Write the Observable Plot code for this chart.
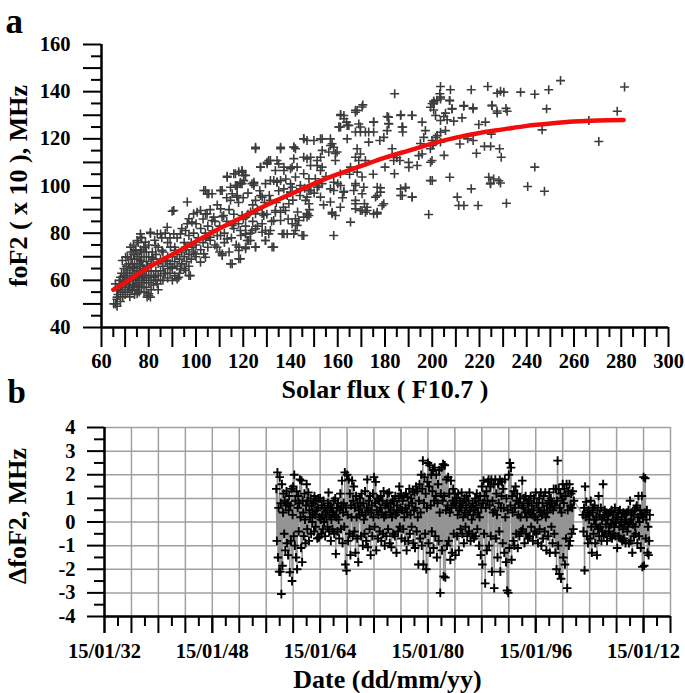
<!DOCTYPE html>
<html><head><meta charset="utf-8">
<script src="https://cdn.jsdelivr.net/npm/d3@7"></script>
<script src="https://cdn.jsdelivr.net/npm/@observablehq/plot@0.6"></script>
<style>
body{margin:0;background:#fff;}
#wrap{position:relative;width:685px;height:693px;overflow:hidden;background:#fff;}
#wrap svg{position:absolute;left:0;overflow:visible;}
</style></head><body><div id="wrap"></div>
<script>
// ---------- Panel a data ----------
const fluxTicks = [60, 80, 100, 120, 140, 160, 180, 200, 220, 240, 260, 280, 300];
const foF2Ticks = [40, 60, 80, 100, 120, 140, 160];
const fitFlux  = [65, 70, 80, 90, 100, 110, 120, 130, 140, 150, 160, 170, 180, 190, 200, 210, 220, 230, 240, 250, 260, 270, 281];
const fitFoF2  = [56, 59, 65.5, 71, 76.5, 82, 87, 92, 96.5, 101, 105, 108.5, 112, 115, 118, 120.5, 122.5, 124, 125.5, 126.5, 127.3, 127.8, 128];
const fluxFoF2 = [
[203.5,142.2],[207.7,140.8],[216.5,140.8],[223.5,142.2],[227.5,139.4],[228.9,140.2],[230.3,139.8],[237.4,139.8],[243.4,138.9],[249.3,140.8],[254.3,144.7],[281.4,142],[278.3,131.7],[266.3,127.8],[270.5,118.9],[248.4,132.7],[246.5,123.8],[243.4,108],[240.4,99.8],[247.5,97.8],[231.4,92.7],[219.4,91.7],[213.4,91.7],[211.2,91.7],[210.6,95.3],[216.5,98.8],[207.4,103.7],[223.9,103.7],[226,103],[224.6,100.9],[228.2,102.2],[218.7,113.9],[222.1,116.8],[224.7,116.8],[228.5,115.8],[229.2,112.2],[211.7,117.8],[217.3,119.3],[200.4,117.8],[201.4,120.6],[199.3,110.1],[200,102.3],[219.7,126.1],[222.5,127.1],[231.7,131.7],[227.5,130.9],[225.3,134.1],[217.3,132.7],[213.4,134.1],[208.4,132.7],[212.6,128.9],[209.1,127.5],[206.3,128.1],[203.5,127.8],[201.4,129.9],[203.2,139.1],[203.5,136.9],[207.4,136.2],[200.6,136],[200.6,134.9],[205.6,130.9],[204.9,129.5],[205.6,123.5],[203.5,122.8],[202.1,121.4],[200,117.2],
[184.1,139.1],[170.6,134.4],[168.2,132],[167.5,131.3],[161.2,130.3],[163.7,127.1],[164.7,125.7],[160.5,125],[168.9,126.3],[169.6,122.9],[171.7,122.9],[167.5,122.9],[173.1,122.9],[175.2,122.9],[175.2,127.1],[180.9,129.5],[181.6,126.3],[180.9,123.5],[179.5,120.6],[177.8,119.3],[173.1,118.6],[186.7,130.2],[191.4,130],[187.5,125],[187.5,122.9],[195.7,127.1],[199.9,135],[202,136.4],[200.6,132.2],[197.1,123.5],[196.4,120.6],[199.9,119.3],[203.5,118.6],[199.9,110.8],[199.2,102.3],[198.5,87.9],[183,115.8],[183.7,110.8],[184,105.2],[186.3,110.8],[190.1,107.9],[194.3,112.9],[195.7,113.6],[193.6,108.7],[199.2,115.8],[186.6,98.8],[188.7,99.5],[191.5,95.3],[187.3,96],[176.7,99.5],[178.1,97.4],[176,95.3],[179.5,92.5],[176.7,88.9],[175.2,88.2],
[168.2,115.8],[169.6,113.6],[167.5,112.2],[168.9,110.8],[171.7,110.8],[165.4,108],[168.2,105.9],[170.3,103.8],[167.5,101],[171,99.5],[166.8,98.1],[167.5,93.9],[171.3,92.5],[172.4,91],[169.6,89.6],[171.7,88.9],[167.5,90.3],[165.4,84.7],[158.3,79],[156.9,93.2],[157.6,88.9],[161.1,91],[159,87.5],[158.3,98.1],[162.5,97.4],[156.9,98.8],[161.1,105.2],[159,110.8],[156.2,114.4],[156.9,117.2],[153.4,115.1],[151.3,110.8],[152.7,106.6],[150.5,103.1],[153.4,101],[148.5,98.1],[147,95.3],[147.8,92.5],[147,88.3],[145.6,86.8],[143.5,85.4],[142.1,86.1],[140.7,84],[142.8,83.3],[142.1,81.1],[138.6,79.7],[136.5,79.7],[144.9,79],[147,86.8],[147.8,87.5],
[141.4,116.5],[142.1,115.8],[145.6,120],[147,119.3],[148.5,112.2],[147,111.5],[152.7,120],[156.9,120],[157.6,117.9],[159.7,114.4],[164,120],[151.3,108.7],[135.8,115.8],[125.2,115.8],[131.5,110.8],[130.1,110.1],[127.3,108],[133.6,106.6],[137.2,106.6],[140.7,108],[142.8,108],[142.1,103.8],[145.6,105.2],[147.8,103.1],[144.2,100.2],[140.7,99.5],[137.2,98.8],[134.3,101.7],[132.9,102.3],[131.5,102.3],[127.3,96],[128,95.3],[125.2,93.9],[140,97.4],[138.6,96],[139.3,92.5],[135.8,88.9],[131.5,93.9],[119.5,105.9],[121,104.5],[120.2,102.3],[124.5,101],
[121,86.8],[125.2,88.2],[128.7,87.5],[125.2,81.9],[129.4,81.1],[130.8,79.7],[132.9,85.4],[133.6,89.6],[121,79.7],[123.1,76.9],[121,74.1],[132.2,74.1],[125.2,74.1],[129.4,76.9],
[130.8,110.8],[135,109.4],[119.5,106.6],[116.7,105.2],[113.2,104.1],[117.4,100.2],[119.5,101],[123.7,101],[129.4,101],[104,98.1],[106.8,96.7],[111.1,98.1],[114.6,93.9],[117.4,96],[96.3,93.2],[90.6,89.6],[100.5,88.9],[104,88.2],[110.4,90.3],[111.7,87.5],[106.8,85.4],[97,86.1],[98.3,84.7],[93.4,79.7],[95.6,81.1],[87.8,82.5],[85,79.7],[80.7,79.9],[76.5,78.3],[75.1,76.9],[78.6,76.2],[82.9,74.8],[89.2,74.1],[91.3,72.7],[95.6,74.1],[98.3,74.1],[104,77.6],[106.1,78.3],[110.4,79],[113.2,77.6],[115.3,83.3],[118.8,81.1],[121,79.7],[123.7,81.1],[128,80.4],[131.5,81.1],[135.8,85.4],[133.6,88.9],[137.9,89.6],[128,88.3],[123.1,89],[119.5,87.5],[122.3,76.9],[118.1,74.1],[121,73.4],[125.2,74.1],[129.4,76.9],[132.9,74.1],[111.1,71.2],[115.3,67],[118.1,69.1],[97,62],[92.7,61.3],[95.6,64.2],[89.9,65.6],[87.8,68.4],[81.4,69.8],[80,54.3],[80.7,52.9],[70.2,69.8],[68.8,68.4],[68,61.3],[65.9,58.5],[66.6,52.9],[65.2,50],[66.6,49],[77.2,61.3],[75.8,57.1],[75.1,54.3],[73,55.7],[74.4,72.7],[72.3,74.1],[85.6,72.7],[104,69.8],[99.7,71.2],[103.3,71.2],
[89.9,89.3],[105.4,96.7],[110.4,98.1],[115.3,96.7],[117.4,99.5],[118.8,101],[124.5,100.2],[114.6,67],[118.8,69.1],[118.1,72.7],[121.7,76.9],[137.2,79.7],[141.4,79.7],[145.6,79],[97.6,62],[93.4,64.9],[92,60.6],[101.9,67.7],[108.9,74.1],[111.1,70.5],[85,60],[86.4,62.8],[82.2,61.3],[83.6,58.5],[80,53.6],[79.3,52.9],[66.6,55.7],[68,58.5],[69.4,61.3],[70.8,64.2],[73.7,65.6],[76.5,68.4],[77.9,74.1],[76.5,79.7],[80.7,80.4],[83.6,79.7],[90.6,79.7],[96.3,84],[99,88.2],[101.9,89.6],[104.7,88.2],[107.5,86.8],
[176.7,88.2],[172.4,89.6],[170.3,89.6],[167.5,92.5],[178.8,91.7],[186.6,96],[191.5,95.3],[176.7,96],[170.3,96.7],[178.1,99.2],[188.7,99.2],[167.5,100.2],[162.6,97.8],[157.6,88.2],[152.7,95.3],[147,88.2],[146.4,93.9],[147.8,98.1],[224.7,101.3],[228.9,101.3],
[125.2,116.4],[135.8,116.4],[141.4,116.4],[145.6,120],[149.9,119.3],[153.4,120],[158.3,116.4],[159,113.8],[161.2,125],[162.6,129.9],[113.2,103.7],[116,105.2],[118.1,106],[120.2,104.5],[116.7,100.2],[118.8,101.6],[124.5,101.6],[127.3,108],[130.1,109.4],[134.3,110.8],[137.2,108],[140,107.3],[141.4,111.6],[145.6,112.2],[148.5,108.7],[152.7,112.2],[153.4,108],[134.3,101.6],[135.8,102.3],[140,100.9],[144.2,98.8],[148.5,98.1],[151.3,99.5],[158.3,101.6],[161.2,100.2],[103.3,98.1],[104.7,96.7],[110.4,98.1],[114.6,99.5],[117.4,95.3],
[199.3,133.4],[200.7,135.6],[203.5,137.7],[207.3,136.3],[208.4,132.8],[213.3,133.8],[217.3,133.2],[225.3,134.2],[227.4,131.8],[231.2,132.9],[161.2,129.9],[162.6,128.5],[170.3,133.5],[167.5,132.1],[160.5,125],[164,125.7],[169.6,125],[175.2,127.1],[181.5,129.2],[186.6,129.9],[191.5,129.9],[181.5,126.5],[187.2,125],
[66,50],[66.5,52],[67,54],[67,57],[67.5,60],[68,51],[68,55],[68.5,58],[68.5,63],[69,53],[69,56],[69,60],[69.5,65],[70,54],[70,57],[70,62],[70.5,59],[70.5,66],[71,55],[71,60],[71,63],[71,70],[71.5,57],[71.5,67],[72,53],[72,58],[72,61],[72,65],[72.5,69],[72.5,72],[73,56],[73,60],[73,63],[73,67],[73.5,58],[73.5,71],[73.5,75],[74,54],[74,57],[74,62],[74,65],[74,69],[74.5,60],[74.5,73],[75,56],[75,59],[75,64],[75,67],[75,71],[75.5,62],[75.5,76],[76,55],[76,58],[76,61],[76,66],[76,70],[76.5,64],[76.5,73],[77,57],[77,60],[77,63],[77,68],[77,72],[77,78],[77.5,66],[78,55],[78,59],[78,62],[78,65],[78,70],[78.5,74],[79,57],[79,61],[79,64],[79,68],[79,72],[79.5,66],[80,59],[80,62],[80,70],[80,75],[81,56],[81,60],[81,64],[81,67],[81.5,72],[82,58],[82,62],[82,69],[82.5,77],[83,60],[83,64],[83,71],[84,56],[84,62],[84,67],[84,74],[85,64],[85,69],[85.5,78],[86,60],[86,66],[86,72],[87,63],[87,68],[87,80],[88,61],[88,65],[88,70],[88,76],[89,63],[89,67],[89,78],[90,60],[90,65],[90,70],[91,62],[91,68],[91,74],[92,66],[92,71],[92,78],[93,63],[93,69],[94,67],[94,72],[94,82],[95,65],[95,70],[95,76],[96,68],[96,73],[97,66],[97,71],[97,79],[98,69],[98,76],[99,72],[99,80],[100,70],[100,75],[100,84],[101,78],[102,73],[102,82],[103,76],[103,86],[104,80],[105,74],[105,83],[106,77],[106,90],[107,81],[108,75],[108,85],[109,79],[109,92],[110,83],[110,72],[111,87],[112,76],[112,80],[113,85],[113,95],[114,72],[114,90],[115,78],[116,82],[116,88],[117,75],[118,84],[118,93],[119,79],[120,86],[120,95],[121,83],[122,88],[122,97],[123,80],[124,85],[124,92],[126,83],[126,90],[127,98],[128,84],[129,93],[130,88],[131,96],[132,85],[134,93],[135,98],[137,91],[138,103],[139,86],[141,94],[143,89],[144,96],[146,99],[148,90],[150,97],[152,100],[154,92],[155,104],[160,101],[162,95],[165,105],[175,105],[180,108],[185,112],[190,110],[195,118],[205,113],[215,120],[225,122]
];

// ---------- Panel b data ----------
const deltaTickYears = [1932, 1948, 1964, 1980, 1996, 2012];
const deltaTicks = [-4, -3, -2, -1, 0, 1, 2, 3, 4];
const deltaStartYear = 1957, deltaStartMonth = 7; // first monthly value: July 1957
const deltaFoF2 = [
 1.4,-0.8,2.1,-1.5,0.6,-2.1,
 1.9,-2.1,0.8,-3.05,1.6,-1.85,0.4,1.2,-0.5,0.9,-1.2,0.7,
 1.3,-0.9,0.8,-1.4,0.5,1.1,-2.13,0.7,-0.8,1.4,-2.5,0.3,
 1.5,-0.6,2.0,-1.0,0.9,-1.5,1.3,-2.0,0.6,1.1,-0.4,0.8,
 1.8,0.2,-1.1,1.75,-1.7,0.9,0.4,-0.6,1.2,0.1,-0.9,0.7,
 1.6,-0.3,0.9,1.25,-0.8,0.5,0.2,1.0,-0.5,0.7,0.0,0.4,
 0.8,-0.4,1.1,0.3,-0.2,0.9,0.5,-0.7,0.6,1.0,-0.65,0.2,
 1.0,0.1,-0.5,0.7,0.3,-0.3,0.9,0.0,0.6,-0.6,0.4,0.2,
 0.5,-0.2,0.8,1.25,-0.4,0.3,0.7,-0.8,0.1,0.6,-0.3,0.4,
 0.9,-0.5,0.3,1.0,-1.35,0.2,0.6,-0.4,0.8,0.1,-0.7,0.5,
 1.2,-0.3,0.7,1.75,-0.9,0.4,0.8,-0.2,2.1,-1.8,0.6,-2.06,
 2.0,0.3,-0.8,1.8,-0.5,1.2,-1.4,0.7,0.2,1.75,-0.6,0.9,
 1.5,-0.4,0.6,-1.3,1.1,0.2,-0.7,0.8,-1.7,0.5,0.3,1.0,
 0.7,-0.6,1.2,0.4,-1.0,0.8,0.1,-0.5,1.3,0.3,-0.8,0.6,
 1.8,-1.07,0.5,0.9,-0.3,1.1,-1.4,0.4,0.7,-0.6,1.2,0.2,
 1.9,-0.2,0.8,1.7,-1.2,0.5,1.0,-0.7,0.3,0.9,-0.4,0.6,
 1.1,-0.8,0.4,0.9,-0.5,1.3,0.2,-1.0,0.7,0.3,-0.6,0.8,
 1.2,-0.3,0.6,1.25,-0.9,0.4,0.8,-1.07,0.2,0.9,-0.5,0.5,
 0.9,-0.6,1.1,0.3,-1.3,0.7,0.4,-0.4,1.0,1.5,-0.2,0.6,
 1.2,-0.7,0.5,0.9,-0.3,1.1,0.2,-0.8,0.6,1.2,-1.2,0.4,
 1.05,-0.8,0.7,1.4,-0.5,0.3,1.0,-0.2,0.8,1.3,-0.9,0.5,
 1.25,-1.1,0.6,1.5,-0.4,1.3,0.2,-1.8,0.9,1.6,-0.7,0.4,
 2.0,-1.0,1.4,2.6,-1.8,0.8,1.9,-0.5,1.2,-2.0,0.6,1.7,
 2.5,-0.9,1.5,2.4,-1.3,0.7,2.0,-0.4,1.3,2.2,-1.1,0.9,
 2.3,-0.6,1.1,2.0,-1.5,0.8,1.6,-0.8,2.2,0.4,-3.0,1.2,
 2.3,-1.2,0.9,2.45,-2.3,1.1,2.4,-2.35,0.5,1.8,-1.0,0.7,
 1.9,-0.8,1.2,0.4,-1.6,1.75,0.6,-1.3,0.9,1.4,-0.5,0.8,
 1.2,-1.4,0.7,1.0,-0.6,0.3,1.2,-1.2,0.5,0.9,-0.3,0.6,
 1.25,-0.5,0.8,0.2,-0.9,1.0,0.4,-0.2,0.7,1.1,-0.6,0.3,
 0.9,-0.4,1.25,0.5,-0.8,0.6,0.1,-0.5,0.8,0.3,-0.7,0.5,
 1.0,-0.6,0.7,1.2,-0.3,0.4,0.9,-1.0,0.2,1.1,-1.4,0.6,
 1.5,-1.8,0.8,1.75,-0.5,1.1,-2.6,0.6,1.3,-1.2,0.9,1.7,
 1.8,-1.0,0.7,1.5,-0.6,1.8,-2.1,0.9,0.4,1.6,-2.8,0.5,
 1.8,-0.7,1.2,0.3,-1.5,1.6,0.8,-0.4,1.8,-2.1,0.6,1.1,
 1.7,-0.9,1.4,0.6,-1.3,1.8,0.2,-1.7,1.0,-2.9,0.5,-3.0,
 2.0,-1.1,2.5,0.7,2.3,-1.6,1.1,0.4,-0.8,1.3,-1.0,0.6,
 1.5,-0.5,0.9,1.2,-1.1,0.3,0.8,-0.6,1.0,0.2,-0.4,0.7,
 1.75,-0.3,0.6,1.0,-0.9,0.4,1.1,-0.5,0.2,0.8,-0.7,0.5,
 0.9,-0.6,0.4,1.1,-0.2,0.7,0.3,-0.8,0.5,1.0,-0.4,0.2,
 1.25,-0.5,0.8,0.1,-0.9,0.6,1.0,-0.3,0.4,1.25,-1.0,0.3,
 0.8,-0.7,1.1,0.5,-0.4,1.25,0.2,-1.2,0.7,0.4,-0.6,0.9,
 1.25,-1.3,0.6,1.0,-0.2,0.8,-0.9,0.5,1.4,-0.5,0.7,-1.3,
 1.4,-2.0,0.9,2.6,-1.0,1.4,-2.2,0.6,1.2,-2.4,0.4,1.0,
 1.6,-1.5,0.8,1.4,-1.8,1.1,-0.7,1.6,-2.8,0.5,1.3,-1.0,
 1.6,-0.8,0.7,1.2,-0.5,0.6,1.3,-0.3,0.9,null,null,null,
 null,null,null,null,null,null,null,null,null,null,null,null,
 0.3,-0.4,0.6,-2.05,1.5,0.2,0.85,-0.6,0.4,-0.9,0.5,0.1,
 0.3,-0.7,0.9,-0.2,-1.3,0.4,0.6,-0.5,0.1,0.7,-0.9,-0.1,
 0.2,-1.4,0.5,-0.3,1.1,-0.6,0.3,-0.2,0.6,-0.8,0.1,-0.4,
 1.6,-0.6,0.2,0.5,-0.5,-0.1,0.4,-0.8,0.1,0.3,-0.4,-0.2,
 0.4,-0.6,-0.1,0.5,-0.7,0.1,0.3,-0.5,-0.2,0.6,-0.6,0.0,
 0.2,-1.1,0.1,0.4,-0.6,-0.2,0.5,-0.7,0.0,0.2,-0.8,-0.3,
 0.4,-0.7,-0.1,0.3,-0.9,0.1,0.4,-0.4,-0.2,0.5,-0.9,0.0,
 0.9,-0.8,0.1,0.4,-1.3,-0.1,0.3,-0.6,0.5,-0.2,-0.5,0.6,
 0.7,-0.9,0.2,1.1,-0.6,0.0,0.5,-1.1,0.3,1.1,-1.9,0.2,
 1.9,-1.85,0.4,1.85,-0.7,0.1,0.5,-1.3,-0.2,-1.4,-0.8,0.3
];

// ---------- build ----------
const FONT = "'Liberation Serif','Times New Roman',Times,serif";
const pts = fluxFoF2.map(([x, y]) => ({x, y}));
const fit = fitFlux.map((x, i) => ({x, y: fitFoF2[i]}));
const fluxMajorUnlabeled = d3.range(70, 300, 20);
const fluxMinor = d3.range(65, 300, 10);
const foF2MajorUnlabeled = d3.range(50, 160, 20);
const foF2Minor = d3.range(45, 160, 10);

const txt = {fontFamily: FONT, fontWeight: "bold", fill: "black"};

const plotA = Plot.plot({
  width: 685, height: 380,
  marginLeft: 101, marginRight: 17, marginTop: 44, marginBottom: 53,
  x: {domain: [60, 300]},
  y: {domain: [40, 160]},
  marks: [
    Plot.dot(pts, {x: "x", y: "y", symbol: "plus", r: 3, stroke: "#3c3c3c", strokeWidth: 1.6}),
    Plot.line(fit, {x: "x", y: "y", stroke: "#f20d0d", strokeWidth: 4.5, curve: "natural"}),
    Plot.ruleX([60], {stroke: "black", strokeWidth: 2.5}),
    Plot.ruleY([40], {stroke: "black", strokeWidth: 2.5}),
    Plot.axisX({ticks: fluxTicks, tickSize: 20, tickPadding: 6, fontSize: 20.5, fontWeight: "bold", fontFamily: FONT, color: "black", strokeWidth: 2, label: null, tickFormat: d => String(d)}),
    Plot.axisX({ticks: fluxMajorUnlabeled, tickSize: 20, color: "black", strokeWidth: 2, label: null, tickFormat: () => ""}),
    Plot.axisX({ticks: fluxMinor, tickSize: 10, color: "black", strokeWidth: 2, label: null, tickFormat: () => ""}),
    Plot.axisY({ticks: foF2Ticks, tickSize: 18, tickPadding: 13, fontSize: 20.5, fontWeight: "bold", fontFamily: FONT, color: "black", strokeWidth: 2, label: null, tickFormat: d => String(d)}),
    Plot.axisY({ticks: foF2MajorUnlabeled, tickSize: 18, color: "black", strokeWidth: 2, label: null, tickFormat: () => ""}),
    Plot.axisY({ticks: foF2Minor, tickSize: 10, color: "black", strokeWidth: 2, label: null, tickFormat: () => ""}),
    Plot.text(["a"], {text: d => d, frameAnchor: "top-left", textAnchor: "start", lineAnchor: "bottom", dx: -96, dy: -12, fontSize: 35, ...txt}),
    Plot.text(["Solar flux ( F10.7 )"], {text: d => d, frameAnchor: "bottom", textAnchor: "middle", lineAnchor: "bottom", dy: 70, fontSize: 26, ...txt}),
    Plot.text(["foF2 ( x 10 ), MHz"], {text: d => d, frameAnchor: "left", textAnchor: "middle", lineAnchor: "middle", rotate: -90, dx: -83, fontSize: 26, ...txt})
  ]
});

const monthDate = i => new Date(Date.UTC(deltaStartYear, deltaStartMonth - 1 + i, 15));
const deltaData = deltaFoF2.map((v, i) => ({date: monthDate(i), v})).filter(d => d.v != null);
const yr = y => new Date(Date.UTC(y, 0, 15));
const gridYears = d3.range(1932, 2017, 4).map(yr);
const minorYears = d3.range(1934, 2016, 4).map(yr);
const deltaMinor = d3.range(-3.5, 4, 1);
const fmt = d3.utcFormat("%d/%m/%y");

const plotB = Plot.plot({
  width: 685, height: 313,
  marginLeft: 104, marginRight: 15, marginTop: 47, marginBottom: 77,
  x: {type: "utc", domain: [yr(1932), yr(2016)]},
  y: {domain: [-4, 4]},
  marks: [
    Plot.ruleY(deltaTicks, {stroke: "#a0a0a0", strokeWidth: 1.5}),
    Plot.ruleX(gridYears, {stroke: "#a0a0a0", strokeWidth: 1.5}),
    Plot.line(deltaData, {x: "date", y: "v", stroke: "#939393", strokeWidth: 1.4}),
    Plot.dot(deltaData, {x: "date", y: "v", symbol: "plus", r: 2.9, stroke: "black", strokeWidth: 1.9}),
    Plot.ruleX([yr(1932)], {stroke: "black", strokeWidth: 2.5}),
    Plot.ruleY([-4], {stroke: "black", strokeWidth: 2.5}),
    Plot.axisX({ticks: deltaTickYears.map(yr), tickSize: 17, tickPadding: 10, fontSize: 20.5, fontWeight: "bold", fontFamily: FONT, color: "black", strokeWidth: 2, label: null, tickFormat: fmt}),
    Plot.axisX({ticks: gridYears, tickSize: 17, color: "black", strokeWidth: 2, label: null, tickFormat: () => ""}),
    Plot.axisX({ticks: minorYears, tickSize: 10, color: "black", strokeWidth: 2, label: null, tickFormat: () => ""}),
    Plot.axisY({ticks: deltaTicks, tickSize: 17, tickPadding: 12, fontSize: 20.5, fontWeight: "bold", fontFamily: FONT, color: "black", strokeWidth: 2, label: null, tickFormat: d => String(d)}),
    Plot.axisY({ticks: deltaMinor, tickSize: 10, color: "black", strokeWidth: 2, label: null, tickFormat: () => ""}),
    Plot.text(["b"], {text: d => d, frameAnchor: "top-left", textAnchor: "start", lineAnchor: "bottom", dx: -97, dy: -25, fontSize: 33, ...txt}),
    Plot.text(["Date (dd/mm/yy)"], {text: d => d, frameAnchor: "bottom", textAnchor: "middle", lineAnchor: "bottom", dy: 71, fontSize: 26, ...txt}),
    Plot.text(["\u0394foF2, MHz"], {text: d => d, frameAnchor: "left", textAnchor: "middle", lineAnchor: "middle", rotate: -90, dx: -87, dy: -6, fontSize: 26, ...txt})
  ]
});

const wrap = document.getElementById("wrap");
for (const [svg, top] of [[plotA, 0], [plotB, 380]]) {
  svg.style.top = top + "px";
  svg.style.overflow = "visible";
  svg.style.background = "transparent";
  svg.style.maxWidth = "none";
  wrap.appendChild(svg);
}
</script>
</body></html>
